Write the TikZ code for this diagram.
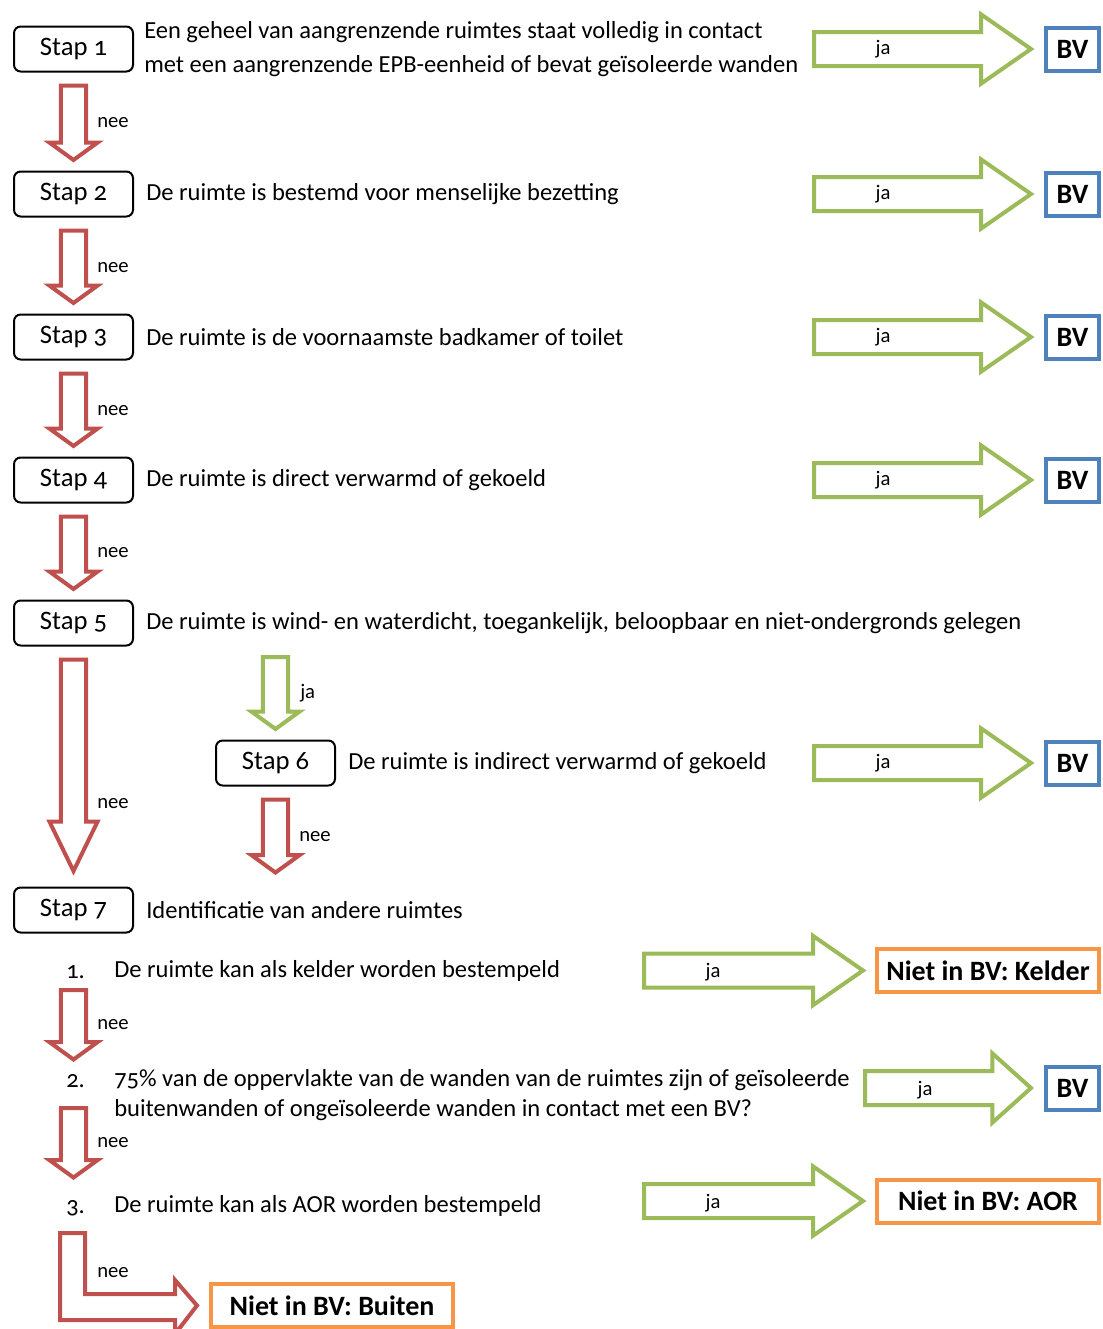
\documentclass[tikz,border=0pt]{standalone}
\usepackage{fontspec}
\setmainfont[Numbers=OldStyle]{Carlito}
\usetikzlibrary{calc,positioning}

\definecolor{jagroen}{HTML}{9BBB59}
\definecolor{neerood}{HTML}{C0504D}
\definecolor{bvblauw}{HTML}{4F81BD}
\definecolor{nietoranje}{HTML}{F79646}

\newcommand{\tekstfont}{\fontsize{18.4pt}{25.5pt}\selectfont}
\newcommand{\stapfont}{\fontsize{20pt}{22pt}\selectfont}
\newcommand{\labelfont}{\fontsize{15.5pt}{17pt}\selectfont}
\newcommand{\uitfont}{\fontsize{21pt}{24pt}\selectfont\bfseries}

% fat arrow from tail (#2) to tip (#3)
\newcommand{\blokpijl}[3]{%
  \draw[#1] ($(#2)!\schacht!90:(#3)$) -- ($(#3)!\kop!(#2)!\schacht!-90:(#2)$)
    -- ($(#3)!\kop!(#2)!\breed!-90:(#2)$) -- (#3)
    -- ($(#3)!\kop!(#2)!\breed!90:(#2)$) -- ($(#3)!\kop!(#2)!\schacht!90:(#2)$)
    -- ($(#2)!\schacht!-90:(#3)$) -- cycle;}

\tikzset{
  pijlklein/.code={\def\schacht{9.4pt}\def\breed{18pt}\def\kop{13pt}},
  pijllang/.code={\def\schacht{9.4pt}\def\breed{18pt}\def\kop{37pt}},
  pijlgroot/.code={\def\schacht{12.75pt}\def\breed{26pt}\def\kop{37.5pt}},
  pijlkort/.code={\def\schacht{12.75pt}\def\breed{26pt}\def\kop{29pt}},
}

\begin{document}
\begin{tikzpicture}[x=0.75pt, y=-0.75pt,
	stapnode/.style={rectangle, rounded corners=5pt, draw=black, line width=1.5pt, minimum width=89.25pt, minimum height=33.75pt, inner sep=0pt, font=\stapfont},
	tekstnode/.style={inner sep=0pt, align=left, font=\tekstfont},
	labelnode/.style={inner sep=0pt, font=\labelfont},
	bvnode/.style={rectangle, draw=bvblauw, line width=3pt, minimum width=39.75pt, minimum height=32.25pt, inner sep=0pt, font=\uitfont},
	nietnode/.style={rectangle, draw=nietoranje, line width=3pt, minimum width=166.5pt, minimum height=32.25pt, inner sep=0pt, font=\uitfont},
	neepijl/.style={draw=neerood, line width=3pt, fill=white},
	japijl/.style={draw=jagroen, line width=3pt, fill=white},
	node distance=9pt
	]
	\useasboundingbox (0,0) rectangle (1103,1329);
	\clip (0,0) rectangle (1103,1329);
	%Stappen
	\node[stapnode] (stap1) at (73.5,49) {Stap 1};
	\node[stapnode, below=73.5pt of stap1] (stap2) {Stap 2};
	\node[stapnode, below=72pt of stap2] (stap3) {Stap 3};
	\node[stapnode, below=72pt of stap3] (stap4) {Stap 4};
	\node[stapnode, below=72pt of stap4] (stap5) {Stap 5};
	\node[stapnode] (stap6) at (275.5,763) {Stap 6};
	\node[stapnode, below=180pt of stap5] (stap7) {Stap 7};
	%Teksten
	\node[tekstnode, right=of stap1, xshift=-1.5pt, yshift=0pt] (tekst1) {Een geheel van aangrenzende ruimtes staat volledig in contact\\met een aangrenzende EPB-eenheid of bevat geïsoleerde wanden};
	\node[tekstnode, right=of stap2] (tekst2) {De ruimte is bestemd voor menselijke bezetting};
	\node[tekstnode, right=of stap3] (tekst3) {De ruimte is de voornaamste badkamer of toilet};
	\node[tekstnode, right=of stap4] (tekst4) {De ruimte is direct verwarmd of gekoeld};
	\node[tekstnode, right=of stap5] (tekst5) {De ruimte is wind- en waterdicht, toegankelijk, beloopbaar en niet-ondergronds gelegen};
	\node[tekstnode, right=of stap6] (tekst6) {De ruimte is indirect verwarmd of gekoeld};
	\node[tekstnode, right=of stap7] (tekst7) {Identificatie van andere ruimtes};
	%BV
	\node[bvnode] (bv1) at (1072.5,0 |- stap1) {BV};
	\node[bvnode] (bv2) at (1072.5,0 |- stap2) {BV};
	\node[bvnode] (bv3) at (1072.5,0 |- stap3) {BV};
	\node[bvnode] (bv4) at (1072.5,0 |- stap4) {BV};
	\node[bvnode] (bv6) at (1072.5,0 |- stap6) {BV};
	%Ja pijlen
	\blokpijl{japijl,pijlgroot}{814,0 |- stap1}{[xshift=-9.75pt]bv1.west}
	\blokpijl{japijl,pijlgroot}{814,0 |- stap2}{[xshift=-9.75pt]bv2.west}
	\blokpijl{japijl,pijlgroot}{814,0 |- stap3}{[xshift=-9.75pt]bv3.west}
	\blokpijl{japijl,pijlgroot}{814,0 |- stap4}{[xshift=-9.75pt]bv4.west}
	\blokpijl{japijl,pijlgroot}{814,0 |- stap6}{[xshift=-9.75pt]bv6.west}
	\node[labelnode] (ja1) at (883,0 |- stap1) {ja};
	\node[labelnode] (ja2) at (883,0 |- stap2) {ja};
	\node[labelnode] (ja3) at (883,0 |- stap3) {ja};
	\node[labelnode] (ja4) at (883,0 |- stap4) {ja};
	\node[labelnode] (ja6) at (883,0 |- stap6) {ja};
	%Nee pijlen
	\blokpijl{neepijl,pijlklein}{[yshift=-9.75pt]stap1.south}{[yshift=7.9pt]stap2.north}
	\blokpijl{neepijl,pijlklein}{[yshift=-9.75pt]stap2.south}{[yshift=7.9pt]stap3.north}
	\blokpijl{neepijl,pijlklein}{[yshift=-9.75pt]stap3.south}{[yshift=7.9pt]stap4.north}
	\blokpijl{neepijl,pijlklein}{[yshift=-9.75pt]stap4.south}{[yshift=7.9pt]stap5.north}
	\blokpijl{neepijl,pijllang}{[yshift=-9.75pt]stap5.south}{[yshift=11.6pt]stap7.north}
	\blokpijl{japijl,pijlklein}{stap6 |- 0,657}{[yshift=7.9pt]stap6.north}
	\blokpijl{neepijl,pijlklein}{[yshift=-9.75pt]stap6.south}{stap6 |- 0,872.5}
	\node[labelnode, anchor=west] (nee1) at (97,123) {nee};
	\node[labelnode, anchor=west] (nee2) at (97,268) {nee};
	\node[labelnode, anchor=west] (nee3) at (97,411) {nee};
	\node[labelnode, anchor=west] (nee4) at (97,553) {nee};
	\node[labelnode, anchor=west] (nee5) at (97,804) {nee};
	\node[labelnode, anchor=west] (ja5) at (300,693) {ja};
	\node[labelnode, anchor=west] (nee6) at (299,837) {nee};
	%Stap 7 lijst
	\node[tekstnode, anchor=west] (num1) at (66,972) {1.};
	\node[tekstnode, anchor=west] (item1) at (114,971) {De ruimte kan als kelder worden bestempeld};
	\node[tekstnode, anchor=west] (num2) at (66,1081) {2.};
	\node[tekstnode, anchor=west, font=\fontsize{18.4pt}{22.5pt}\selectfont] (item2) at (114,1095) {75\% van de oppervlakte van de wanden van de ruimtes zijn of geïsoleerde\\buitenwanden of ongeïsoleerde wanden in contact met een BV?};
	\node[tekstnode, anchor=west] (num3) at (66,1208) {3.};
	\node[tekstnode, anchor=west] (item3) at (114,1206) {De ruimte kan als AOR worden bestempeld};
	\node[nietnode] (kelder) at (988,970.5) {Niet in BV: Kelder};
	\node[bvnode] (bv7) at (1072.5,1088) {BV};
	\node[nietnode] (aor) at (988,1201) {Niet in BV: AOR};
	\node[nietnode, minimum width=181.5pt] (buiten) at (332,1305.5) {Niet in BV: Buiten};
	\blokpijl{japijl,pijlgroot}{644,0 |- kelder}{[xshift=-9pt]kelder.west}
	\blokpijl{japijl,pijlkort}{865,0 |- bv7}{[xshift=-9.75pt]bv7.west}
	\blokpijl{japijl,pijlgroot}{644,0 |- aor}{[xshift=-9pt]aor.west}
	\node[labelnode] (ja7) at (713,972) {ja};
	\node[labelnode] (ja8) at (925,1090) {ja};
	\node[labelnode] (ja9) at (713,1203) {ja};
	\blokpijl{neepijl,pijlklein}{stap7 |- 0,990}{stap7 |- 0,1059.5}
	\blokpijl{neepijl,pijlklein}{stap7 |- 0,1108}{stap7 |- 0,1177.5}
	\draw[neepijl] (60,1233) -- (85,1233) -- (85,1294) -- (175,1294) -- (175,1280) -- ([xshift=-9pt]buiten.west) -- (175,1334) -- (175,1320) -- (60,1320) -- cycle;
	\node[labelnode, anchor=west] (nee7) at (97,1025) {nee};
	\node[labelnode, anchor=west] (nee8) at (97,1143) {nee};
	\node[labelnode, anchor=west] (nee9) at (97,1273) {nee};
\end{tikzpicture}
\end{document}
